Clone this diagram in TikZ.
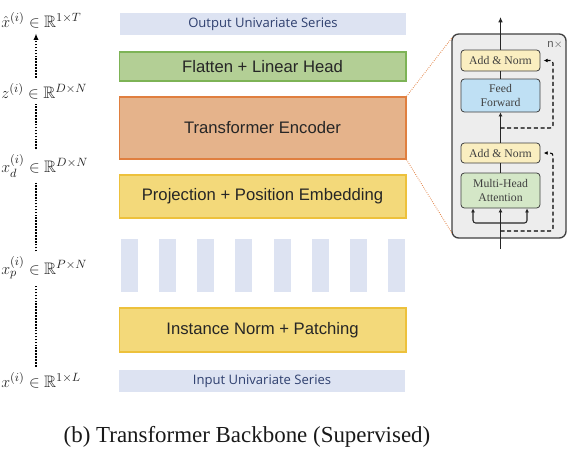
\documentclass[tikz,border=0pt]{standalone}
\usepackage{fontspec}
\usepackage{amssymb}
\setmainfont{Liberation Serif}
\setsansfont{Liberation Sans}
\newfontfamily\seriesfont{Open Sans}
\usetikzlibrary{positioning,arrows.meta}

\definecolor{seriesfill}{HTML}{DDE3F2}
\definecolor{seriestext}{HTML}{2E3F6E}
\definecolor{headfill}{HTML}{B3CF95}
\definecolor{headdraw}{HTML}{7DB356}
\definecolor{encfill}{HTML}{E5B38B}
\definecolor{encdraw}{HTML}{E07F3F}
\definecolor{projfill}{HTML}{F3D97A}
\definecolor{projdraw}{HTML}{EDC13C}
\definecolor{blockfill}{HTML}{EDEDED}
\definecolor{addfill}{HTML}{FAEEC0}
\definecolor{fffill}{HTML}{BFE0F4}
\definecolor{mhafill}{HTML}{D4E7C7}

\tikzset{
  layer/.style={draw, line width=1pt, minimum width=215pt, text=black!85,
    font=\sffamily\fontsize{12.5}{14}\selectfont, inner sep=0pt},
  series/.style={fill=seriesfill, minimum width=215pt, minimum height=16.5pt,
    text=seriestext, font=\seriesfont\fontsize{9.8}{11}\selectfont, inner sep=0pt},
  patch/.style={fill=seriesfill, minimum width=12.75pt, minimum height=39.75pt, inner sep=0pt},
  shape label/.style={anchor=west, text=black!85, font=\fontsize{12.5}{14}\selectfont, inner sep=0pt},
  dots/.style={line width=1.2pt, densely dotted, shorten <=4pt, shorten >=4pt},
  sublayer/.style={draw=black!75, line width=0.6pt, rounded corners=2.5pt, minimum width=59.25pt,
    text=black!75, font=\fontsize{8.8}{9.8}\selectfont, align=center, inner sep=0pt},
  flow/.style={line width=0.8pt, black!85},
  resid/.style={line width=0.8pt, dashed, dash pattern=on 3pt off 2pt, rounded corners=2pt, -{Latex[length=3pt,width=3pt]}}
}

\begin{document}
\begin{tikzpicture}[x=0.75pt, y=-0.75pt]
\useasboundingbox (0,0) rectangle (581,455);

% Backbone layers
\node[series] (out) at (263,24) {Output Univariate Series};
\node[layer, fill=headfill, draw=headdraw, minimum height=21.75pt] (head) at (262.5,66.5) {Flatten + Linear Head};
\node[layer, fill=encfill, draw=encdraw, minimum height=46.5pt] (enc) at (262.5,128) {Transformer Encoder};
\node[layer, fill=projfill, draw=projdraw, minimum height=32.25pt] (proj) at (262.5,196.5) {Projection + Position Embedding};
\foreach \i in {0,...,7}
  \node[patch] (patch\i) at (129.5+38.14*\i,265.5) {};
\node[layer, fill=projfill, draw=projdraw, minimum height=33pt] (norm) at (262.5,330) {Instance Norm + Patching};
\node[series] (in) at (262,381) {Input Univariate Series};

% Shapes on the left
\node[shape label] (lxhat) at (1,20) {$\hat{x}^{(i)}\in\mathbb{R}^{1\times T}$};
\node[shape label] (lz) at (1,91) {$z^{(i)}\in\mathbb{R}^{D\times N}$};
\node[shape label] (lxd) at (1,166) {$x_d^{(i)}\in\mathbb{R}^{D\times N}$};
\node[shape label] (lxp) at (1,268) {$x_p^{(i)}\in\mathbb{R}^{P\times N}$};
\node[shape label] (lx) at (1,380) {$x^{(i)}\in\mathbb{R}^{1\times L}$};
\coordinate (axis) at (36,0);
\draw[dots] (lx.north -| axis) -- (lxp.south -| axis);
\draw[dots] (lxp.north -| axis) -- (lxd.south -| axis);
\draw[dots] (lxd.north -| axis) -- (lz.south -| axis);
\draw[dots, -{Latex[length=5pt,width=4pt]}] (lz.north -| axis) -- (lxhat.south -| axis);

% Encoder block
\node[draw=black!75, line width=1pt, fill=blockfill, rounded corners=5pt,
  minimum width=85.5pt, minimum height=153pt] (block) at (509,136) {};
\node[text=black!65, font=\sffamily\fontsize{8.5}{10}\selectfont] (rep) at (555,45) {n$\times$};
\node[sublayer, fill=addfill, minimum height=15.75pt] (add2) at (500.5,60.5) {Add \& Norm};
\node[sublayer, fill=fffill, minimum height=24.75pt] (ff) at (500.5,95.5) {Feed\\Forward};
\node[sublayer, fill=addfill, minimum height=15pt] (add1) at (500.5,153) {Add \& Norm};
\node[sublayer, fill=mhafill, minimum height=26.25pt] (mha) at (500.5,190.5) {Multi-Head\\Attention};

% Zoom lines
\draw[encdraw, densely dotted, line width=0.6pt] (enc.north east) -- ([shift={(1,4)}]block.north west);
\draw[encdraw, densely dotted, line width=0.6pt] (enc.south east) -- ([shift={(1,-5)}]block.south west);

% Main flow
\coordinate (bot) at (500.5,249);
\coordinate (top) at (500.5,17);
\coordinate (split) at (500.5,223);
\coordinate (ql) at (473,223);
\coordinate (kr) at (527,223);
\draw[flow, -{Latex[length=3pt,width=3pt]}] (bot) -- (mha.south);
\draw[flow, -{Latex[length=3pt,width=3pt]}, rounded corners=2pt] (split) -- (ql) -- (ql |- mha.south);
\draw[flow, -{Latex[length=3pt,width=3pt]}, rounded corners=2pt] (split) -- (kr) -- (kr |- mha.south);
\draw[flow] (mha.north) -- (add1.south);
\draw[flow, -{Latex[length=3pt,width=3pt]}] (add1.north) -- (ff.south);
\draw[flow] (ff.north) -- (add2.south);
\draw[flow, -{Latex[length=4pt,width=3.5pt]}] (add2.north) -- (top);

% Residuals
\coordinate (rx) at (553,0);
\coordinate (res1) at (500.5,231);
\coordinate (res2) at (500.5,128);
\draw[resid] (res1) -- (res1 -| rx) -- (add1.east -| rx) -- ([xshift=2.5]add1.east);
\draw[resid] (res2) -- (res2 -| rx) -- (add2.east -| rx) -- ([xshift=2.5]add2.east);

% Caption
\node[font=\fontsize{17.2}{20}\selectfont, text=black!90] (cap) at (247,437) {(b) Transformer Backbone (Supervised)};
\end{tikzpicture}
\end{document}
